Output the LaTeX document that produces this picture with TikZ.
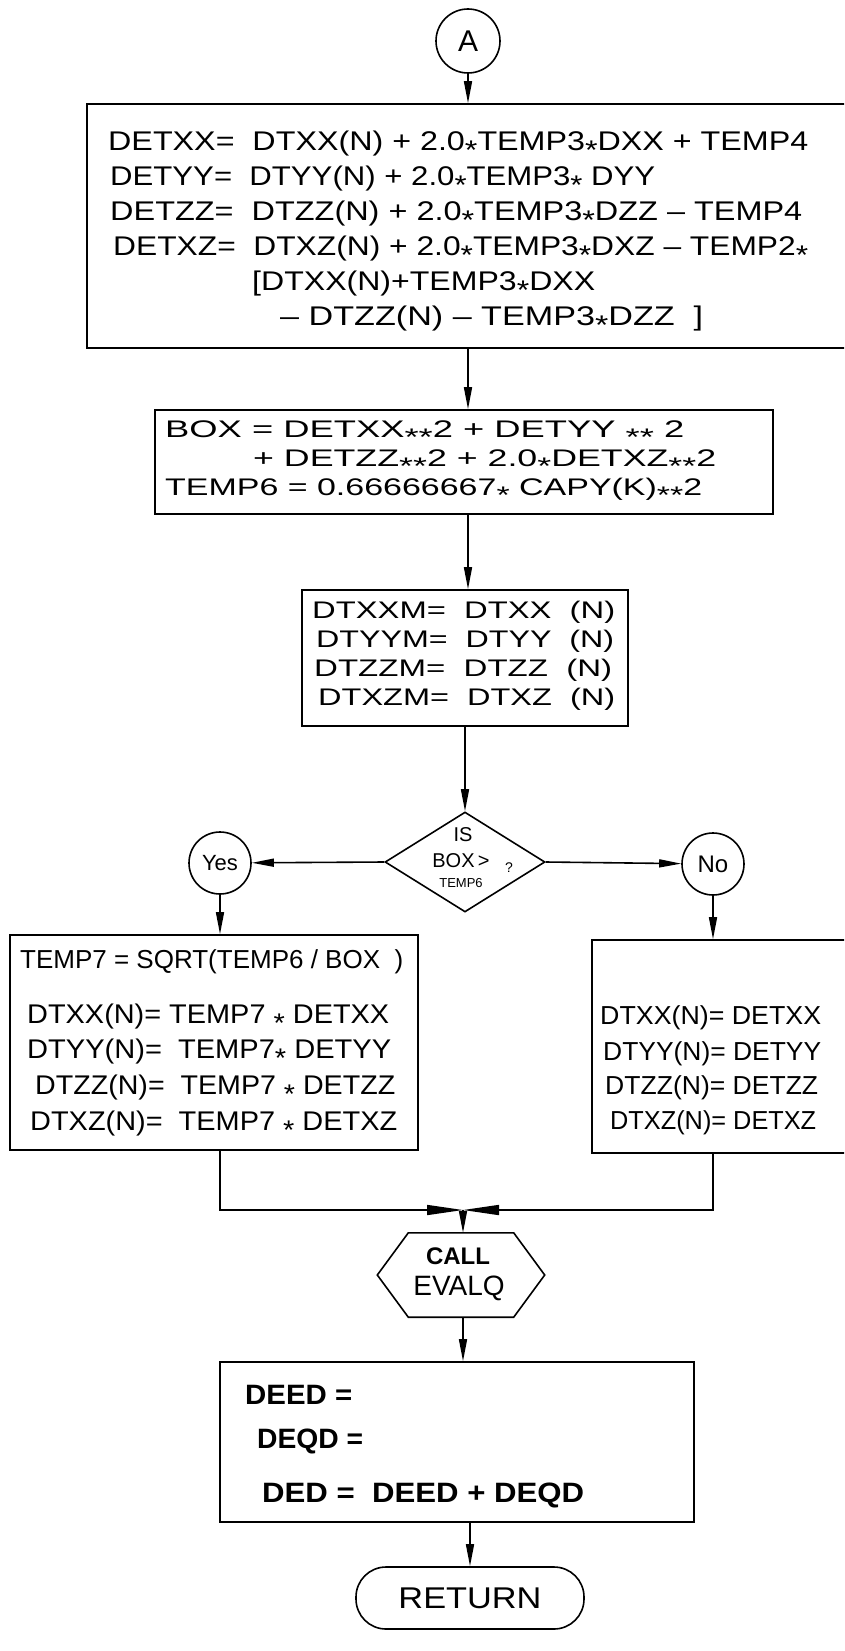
\documentclass[tikz,border=0pt]{standalone}
\usepackage{fontspec}
\usepackage{graphicx}
\setmainfont{Liberation Sans}
\usetikzlibrary{arrows.meta,shapes.geometric}
\newcommand\mystar{\raisebox{-0.32em}{*}}
\newcommand\fitrow[2]{\resizebox{#1}{\height}{#2}}
\newcommand\fsz[1]{\fontsize{#1}{#1}\selectfont}
\begin{document}
\begin{tikzpicture}[x=1pt,y=-1pt,
  box/.style={draw, line width=1.6pt, inner sep=0pt},
  conn/.style={draw, line width=1.6pt, circle, inner sep=0pt, minimum size=62pt},
  row/.style={anchor=west, inner sep=0pt},
  arr/.style={line width=1.6pt, -{Triangle[length=22pt,width=8pt]}},
  marr/.style={line width=1.6pt, -{Triangle[length=36pt,width=10pt]}},
  shp/.style={line width=1.6pt}]
\clip (0,0) rectangle (844,1651);
\fill[white] (0,0) rectangle (844,1651);

% connector A
\node[conn, minimum size=64pt, font=\fsz{30}] (A) at (468,41) {A};

% box 1
\node[box, minimum width=813pt, minimum height=244pt] (b1) at (493.5,226) {};
\node[row, font=\fsz{27}] (b1r1) at (108,145) {\fitrow{700pt}{DETXX=\ \ DTXX(N) + 2.0\mystar TEMP3\mystar DXX + TEMP4}};
\node[row, font=\fsz{27}] (b1r2) at (110,180) {\fitrow{545pt}{DETYY=\ \ DTYY(N) + 2.0\mystar TEMP3\mystar\ DYY}};
\node[row, font=\fsz{27}] (b1r3) at (110,215) {\fitrow{692pt}{DETZZ=\ \ DTZZ(N) + 2.0\mystar TEMP3\mystar DZZ -- TEMP4}};
\node[row, font=\fsz{27}] (b1r4) at (113,250) {\fitrow{695pt}{DETXZ=\ \ DTXZ(N) + 2.0\mystar TEMP3\mystar DXZ -- TEMP2\mystar}};
\node[row, font=\fsz{27}] (b1r5) at (252,285) {\fitrow{343pt}{[DTXX(N)+TEMP3\mystar DXX}};
\node[row, font=\fsz{27}] (b1r6) at (280,320) {\fitrow{423pt}{-- DTZZ(N) -- TEMP3\mystar DZZ \ ]}};

% box 2
\node[box, minimum width=618pt, minimum height=104pt] (b2) at (464,462) {};
\node[row, font=\fsz{24}] (b2r1) at (165,433) {\fitrow{519pt}{BOX = DETXX\mystar\mystar 2 + DETYY \mystar\mystar\ 2}};
\node[row, font=\fsz{24}] (b2r2) at (253,462) {\fitrow{463pt}{+ DETZZ\mystar\mystar 2 + 2.0\mystar DETXZ\mystar\mystar 2}};
\node[row, font=\fsz{24}] (b2r3) at (165,491) {\fitrow{537pt}{TEMP6 = 0.66666667\mystar\ CAPY(K)\mystar\mystar 2}};

% box 3
\node[box, minimum width=326pt, minimum height=136pt] (b3) at (465,658) {};
\node[row, font=\fsz{24}] (b3r1) at (312,612) {\fitrow{303pt}{DTXXM= \ DTXX \ (N)}};
\node[row, font=\fsz{24}] (b3r2) at (316,641) {\fitrow{298pt}{DTYYM= \ DTYY \ (N)}};
\node[row, font=\fsz{24}] (b3r3) at (314,670) {\fitrow{298pt}{DTZZM= \ DTZZ \ (N)}};
\node[row, font=\fsz{24}] (b3r4) at (318,699) {\fitrow{297pt}{DTXZM= \ DTXZ \ (N)}};

% decision
\node[draw, diamond, line width=1.6pt, minimum width=160pt, minimum height=100pt, inner sep=0pt] (dec) at (465,862) {};
\node[font=\fsz{20}, inner sep=0pt] (decA) at (463,835) {IS};
\node[font=\fsz{20}, inner sep=0pt] (decB) at (461,861) {BOX\,>};
\node[font=\fsz{13}, inner sep=0pt] (decC) at (461,883) {TEMP6};
\node[font=\fsz{14}, inner sep=0pt] (decQ) at (509,868) {?};

\node[conn, font=\fsz{22}] (yes) at (220,863) {Yes};
\node[conn, font=\fsz{24}] (no) at (713,864) {No};

% box 4
\node[box, minimum width=408pt, minimum height=215pt] (b4) at (214,1042.5) {};
\node[row, font=\fsz{26}] (b4r1) at (20,962) {\fitrow{383pt}{TEMP7 = SQRT(TEMP6 / BOX \ )}};
\node[row, font=\fsz{27}] (b4r2) at (27,1018) {\fitrow{362pt}{DTXX(N)= TEMP7 \mystar\ DETXX}};
\node[row, font=\fsz{27}] (b4r3) at (27,1053) {\fitrow{364pt}{DTYY(N)= \ TEMP7\mystar\ DETYY}};
\node[row, font=\fsz{27}] (b4r4) at (35,1089) {\fitrow{360pt}{DTZZ(N)= \ TEMP7 \mystar\ DETZZ}};
\node[row, font=\fsz{27}] (b4r5) at (30,1125) {\fitrow{367pt}{DTXZ(N)= \ TEMP7 \mystar\ DETXZ}};

% box 5
\node[box, minimum width=308pt, minimum height=213pt] (b5) at (746,1046.5) {};
\node[row, font=\fsz{26}] (b5r1) at (600,1018) {\fitrow{221pt}{DTXX(N)= DETXX}};
\node[row, font=\fsz{26}] (b5r2) at (603,1054) {\fitrow{218pt}{DTYY(N)= DETYY}};
\node[row, font=\fsz{26}] (b5r3) at (605,1088) {\fitrow{213pt}{DTZZ(N)= DETZZ}};
\node[row, font=\fsz{26}] (b5r4) at (610,1123) {\fitrow{206pt}{DTXZ(N)= DETXZ}};

% merge point
\coordinate (m) at (463,1210);

% hexagon
\node[inner sep=0pt, minimum width=167pt, minimum height=84pt] (hex) at (461,1275) {};
\draw[shp] (hex.west) -- ([xshift=31pt]hex.north west) -- ([xshift=-31pt]hex.north east) -- (hex.east) -- ([xshift=-31pt]hex.south east) -- ([xshift=31pt]hex.south west) -- cycle;
\node[font=\fsz{24}\bfseries, inner sep=0pt] (hexA) at (458,1256) {CALL};
\node[font=\fsz{28}, inner sep=0pt] (hexB) at (459,1288) {EVALQ};

% box 6
\node[box, minimum width=474pt, minimum height=160pt] (b6) at (457,1442) {};
\node[row, font=\fsz{28}\bfseries] (b6r1) at (245,1395) {\fitrow{107pt}{DEED =}};
\node[row, font=\fsz{28}\bfseries] (b6r2) at (257,1441) {\fitrow{106pt}{DEQD =}};
\node[row, font=\fsz{28}\bfseries] (b6r3) at (262,1495) {\fitrow{322pt}{DED = \ DEED + DEQD}};

% return
\node[draw, line width=1.6pt, rounded corners=30pt, minimum width=228pt, minimum height=62pt, inner sep=0pt, font=\fsz{30}] (ret) at (470,1598) {\fitrow{143pt}{RETURN}};

% connectors
\draw[arr] (A) -- (A |- b1.north);
\draw[arr] (A |- b1.south) -- (A |- b2.north);
\draw[arr] (A |- b2.south) -- (A |- b3.north);
\draw[arr] (dec.north |- b3.south) -- (dec.north);
\draw[arr] (dec.west) -- (yes);
\draw[arr] (dec.east) -- (no);
\draw[arr] (yes) -- (yes |- b4.north);
\draw[arr] (no) -- (no |- b5.north);
\draw[marr] (yes |- b4.south) |- (m);
\draw[marr] (no |- b5.south) |- (m);
\draw[arr] (m) -- (m |- hex.north);
\draw[arr] (m |- hex.south) -- (m |- b6.north);
\draw[arr] (ret |- b6.south) -- (ret.north);
\end{tikzpicture}
\end{document}
